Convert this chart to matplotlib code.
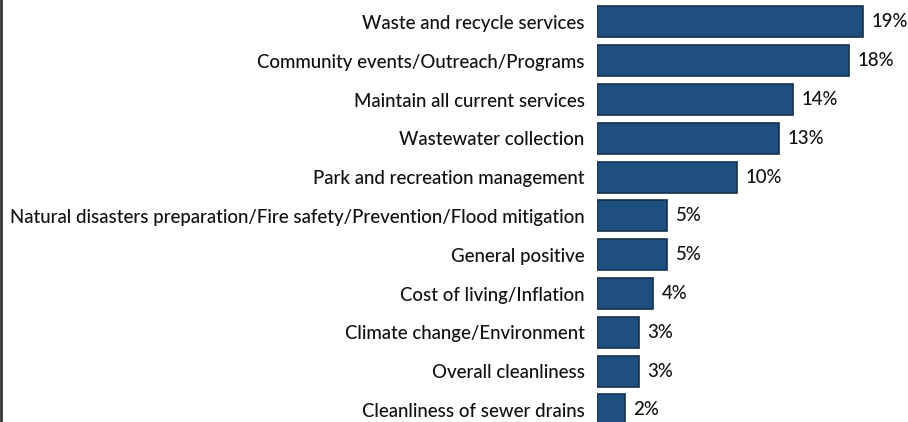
import matplotlib
matplotlib.use("Agg")
import matplotlib.pyplot as plt
from matplotlib.lines import Line2D

plt.rcParams['font.family'] = ['Lato', 'DejaVu Sans']

categories = [
    "Waste and recycle services",
    "Community events/Outreach/Programs",
    "Maintain all current services",
    "Wastewater collection",
    "Park and recreation management",
    "Natural disasters preparation/Fire safety/Prevention/Flood mitigation",
    "General positive",
    "Cost of living/Inflation",
    "Climate change/Environment",
    "Overall cleanliness",
    "Cleanliness of sewer drains",
]
values = [19, 18, 14, 13, 10, 5, 5, 4, 3, 3, 2]

bar_color = "#1f4f7e"
edge_color = "#16314d"
text_color = "#111111"

fig = plt.figure(figsize=(9.08, 4.22), dpi=100)
# axes run slightly past the bottom edge so the last bar gets clipped
ax = fig.add_axes([597 / 908, -0.0175, 308 / 908, 1.0114])

y = list(range(len(categories)))
ax.barh(y, values, height=0.8, color=bar_color, edgecolor=edge_color, linewidth=1.2)

for yi, v in zip(y, values):
    ax.text(v + 0.6, yi, f"{v}%", va="center", ha="left",
            fontsize=13.4, color=text_color, fontweight="medium")

ax.set_xlim(0, 22)
ax.set_ylim(len(categories) - 0.5, -0.5)
ax.set_yticks(y)
ax.set_yticklabels(categories, fontsize=13.4, color=text_color, fontweight="medium")
ax.tick_params(axis="y", length=0, pad=9)
ax.set_xticks([])
for s in ax.spines.values():
    s.set_visible(False)

# dark scan border on the left edge
fig.add_artist(Line2D([0.0015, 0.0015], [0, 1], transform=fig.transFigure,
                      color="#333333", linewidth=2))

fig.savefig("out.png", dpi=100)
